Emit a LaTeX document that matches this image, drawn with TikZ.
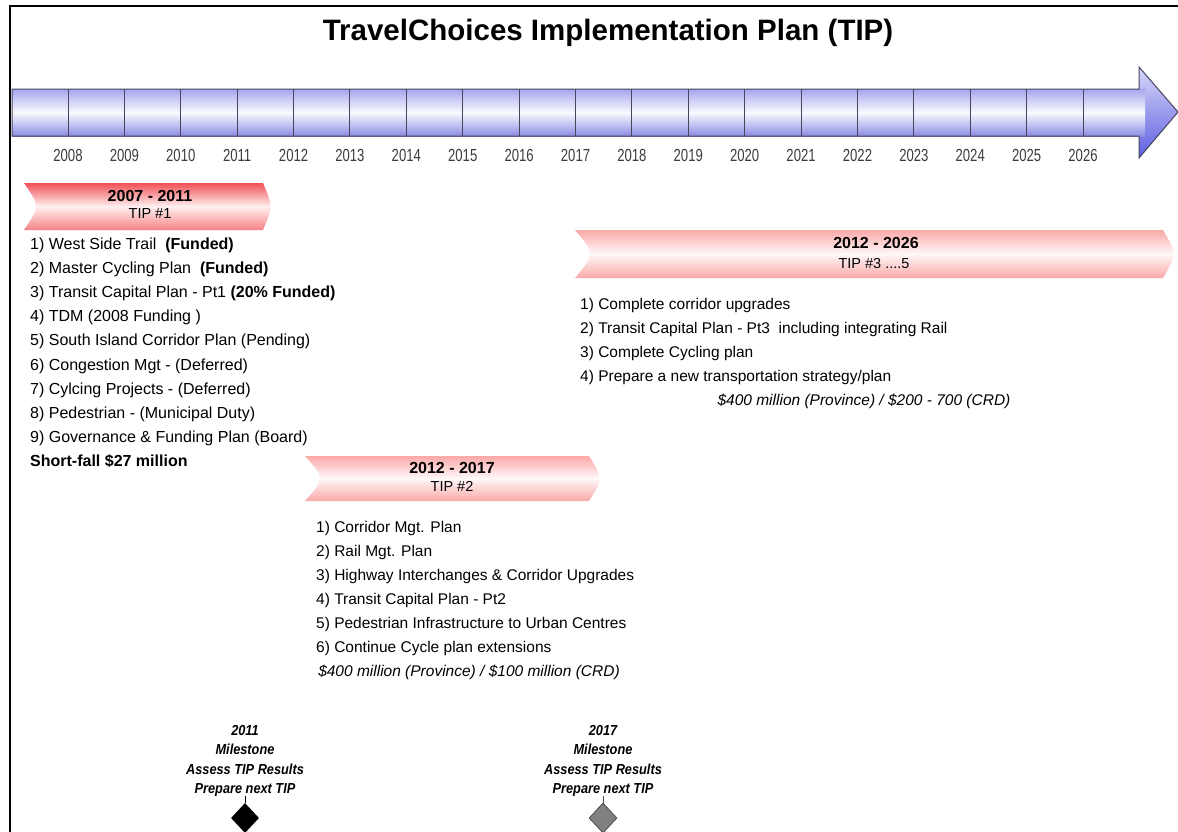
\documentclass[tikz,border=0pt]{standalone}
\usepackage{fontspec}
\setmainfont{Liberation Sans}
\newfontfamily\yearfont[FakeStretch=0.75]{Liberation Sans}
\newfontfamily\milefont[FakeStretch=0.88]{Liberation Sans}
\usetikzlibrary{shapes.geometric}
\definecolor{barTop}{RGB}{165,165,238}
\definecolor{barMid}{RGB}{250,250,255}
\definecolor{barBot}{RGB}{140,140,228}
\definecolor{headTop}{RGB}{215,215,250}
\definecolor{headBot}{RGB}{95,95,225}
\definecolor{barLine}{RGB}{70,70,95}
\definecolor{yearGray}{RGB}{60,60,60}
\definecolor{redTop}{RGB}{240,80,86}
\definecolor{redMid}{RGB}{255,240,240}
\definecolor{redBot}{RGB}{246,130,132}
\definecolor{pinkTop}{RGB}{250,168,168}
\definecolor{pinkMid}{RGB}{255,248,248}
\definecolor{pinkBot}{RGB}{250,168,168}
\definecolor{mileGray}{RGB}{128,128,128}
\tikzset{
 listA/.style={anchor=base west, inner sep=0pt, font=\fontsize{16}{19}\selectfont},
 listB/.style={anchor=base west, inner sep=0pt, font=\fontsize{15.5}{19}\selectfont},
 italB/.style={anchor=base, inner sep=0pt, font=\fontsize{15.5}{19}\selectfont\itshape},
 headtxt/.style={anchor=base, inner sep=0pt, font=\fontsize{16}{19}\selectfont\bfseries},
 subtxt/.style={anchor=base, inner sep=0pt, font=\fontsize{14.5}{17}\selectfont},
 yearlbl/.style={anchor=base, inner sep=0pt, font=\yearfont\fontsize{17.5}{20}\selectfont, text=yearGray},
 mile/.style={anchor=base, inner sep=0pt, font=\milefont\fontsize{14.5}{16}\selectfont\bfseries\itshape},
 milediamond/.style={diamond, inner sep=0pt, minimum width=28pt, minimum height=30pt},
}
\begin{document}
\begin{tikzpicture}[x=1pt,y=-1pt]
\useasboundingbox (0,0) rectangle (1178,831);
\fill[white] (0,0) rectangle (1178,831);
% frame
\draw[line width=2.5pt] (10,832) -- (10,6) -- (1179,6);
% title
\node[anchor=base, inner sep=0pt, font=\fontsize{29.5}{32}\selectfont\bfseries] (title) at (608,40.6) {TravelChoices Implementation Plan (TIP)};
% timeline arrow
\shade[top color=barTop, bottom color=barBot, middle color=barMid] (12,89) rectangle (1139,136);
\shade[top color=headTop, bottom color=headBot] (1139,67) -- (1178,112) -- (1139,158) -- cycle;
\shade[top color=barTop, bottom color=barBot, middle color=barMid] (1138,89) rectangle (1145,136);
\draw[barLine, line width=1pt, line join=miter] (12,89) -- (1139,89) -- (1139,67) -- (1178,112) -- (1139,158) -- (1139,136) -- (12,136) -- cycle;
\foreach \i in {0,...,18} {
  \draw[barLine, line width=1pt] ({68+56.39*\i},89) -- ({68+56.39*\i},136);
  \pgfmathtruncatemacro\yr{2008+\i}
  \node[yearlbl] (y\yr) at ({68+56.39*\i},161) {\yr};
}
% TIP 1 banner
\shade[top color=redTop, bottom color=redBot, middle color=redMid] (24,183) -- (263,183) .. controls (273,206.5) .. (263,230) -- (24,230) .. controls (40,206.5) .. (24,183) -- cycle;
\node[headtxt] (h1) at (150,201.8) {2007 - 2011};
\node[subtxt] (s1) at (150,218.5) {TIP \#1};
\node[listA] (a1) at (30,249) {1) West Side Trail\ \ \textbf{(Funded)}};
\node[listA] (a2) at (30,273.2) {2) Master Cycling Plan\ \ \textbf{(Funded)}};
\node[listA] (a3) at (30,297.4) {3) Transit Capital Plan - Pt1 \textbf{(20\% Funded)}};
\node[listA] (a4) at (30,321.6) {4) TDM (2008 Funding )};
\node[listA] (a5) at (30,345.8) {5) South Island Corridor Plan (Pending)};
\node[listA] (a6) at (30,370) {6) Congestion Mgt - (Deferred)};
\node[listA] (a7) at (30,394.2) {7) Cylcing Projects - (Deferred)};
\node[listA] (a8) at (30,418.4) {8) Pedestrian - (Municipal Duty)};
\node[listA] (a9) at (30,442.6) {9) Governance \& Funding Plan (Board)};
\node[listA, font=\fontsize{16}{19}\selectfont\bfseries] (a10) at (30,466.8) {Short-fall \$27 million};
% TIP 3 banner
\shade[top color=pinkTop, bottom color=pinkBot, middle color=pinkMid] (575,230) -- (1163,230) .. controls (1177,254) .. (1163,278) -- (575,278) .. controls (595,254) .. (575,230) -- cycle;
\node[headtxt] (h3) at (876,248.8) {2012 - 2026};
\node[subtxt] (s3) at (874,268.5) {TIP \#3 ....5};
\node[listB] (c1) at (580,309.5) {1) Complete corridor upgrades};
\node[listB] (c2) at (580,333.5) {2) Transit Capital Plan - Pt3\ \ including integrating Rail};
\node[listB] (c3) at (580,357.5) {3) Complete Cycling plan};
\node[listB] (c4) at (580,381.5) {4) Prepare a new transportation strategy/plan};
\node[italB] (c5) at (864,405.5) {\$400 million (Province) / \$200 - 700 (CRD)};
% TIP 2 banner
\shade[top color=pinkTop, bottom color=pinkBot, middle color=pinkMid] (305,456) -- (589,456) .. controls (603,478.5) .. (589,501) -- (305,501) .. controls (325,478.5) .. (305,456) -- cycle;
\node[headtxt] (h2) at (452,473.8) {2012 - 2017};
\node[subtxt] (s2) at (452,491.5) {TIP \#2};
\node[listB] (b1) at (316,532.5) {1) Corridor Mgt. Plan};
\node[listB] (b2) at (316,556.5) {2) Rail Mgt. Plan};
\node[listB] (b3) at (316,580.5) {3) Highway Interchanges \& Corridor Upgrades};
\node[listB] (b4) at (316,604.5) {4) Transit Capital Plan - Pt2};
\node[listB] (b5) at (316,628.5) {5) Pedestrian Infrastructure to Urban Centres};
\node[listB] (b6) at (316,652.5) {6) Continue Cycle plan extensions};
\node[italB] (b7) at (469,676.5) {\$400 million (Province) / \$100 million (CRD)};
% milestones
\node[mile] (m1a) at (245,735) {2011};
\node[mile] (m1b) at (245,754) {Milestone};
\node[mile] (m1c) at (245,774) {Assess TIP Results};
\node[mile] (m1d) at (245,793) {Prepare next TIP};
\node[milediamond, fill=black] (d1) at (245,818) {};
\draw[line width=1pt] (m1d.south) -- (d1.north);
\node[mile] (m2a) at (603,735) {2017};
\node[mile] (m2b) at (603,754) {Milestone};
\node[mile] (m2c) at (603,774) {Assess TIP Results};
\node[mile] (m2d) at (603,793) {Prepare next TIP};
\node[milediamond, fill=mileGray, draw=black!70, line width=0.8pt] (d2) at (603,818) {};
\draw[line width=1pt, black!70] (m2d.south) -- (d2.north);
\end{tikzpicture}
\end{document}
